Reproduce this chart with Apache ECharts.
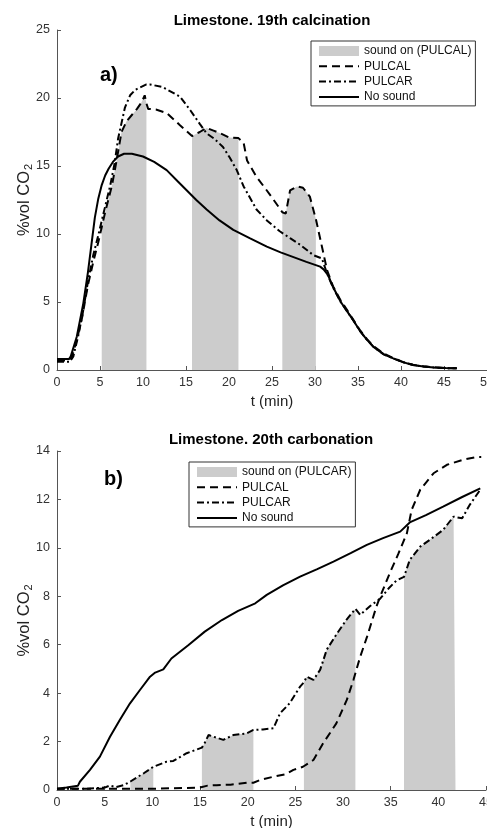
<!DOCTYPE html>
<html>
<head>
<meta charset="utf-8">
<script src="https://cdn.jsdelivr.net/npm/echarts@6/dist/echarts.min.js"></script>
<style>
  html, body { margin: 0; padding: 0; background: #fff; }
  #chart { width: 487px; height: 828px; }
</style>
</head>
<body>
<div id="chart"></div>
<script>
// a) Limestone, 19th calcination  (t in min, %vol CO2)
const calPulcalT = [0, 1.0, 1.7, 2.3, 2.9, 3.6, 4.2, 4.8, 5.2, 5.6, 6.4, 6.9, 7.5, 8.1, 8.7, 9.3, 9.85, 10.2, 10.4, 10.6, 11.5, 12.75, 14.3, 15.0, 15.7, 16.6, 17.4, 18.2, 19.0, 20.0, 21.1, 21.7, 22.1, 23.2, 24.4, 25.2, 26.2, 26.6, 27.1, 27.9, 28.6, 29.4, 30.1, 30.9, 31.4, 32.1, 33.0, 33.7, 34.5, 35.2, 36.0, 36.8, 38.0, 39.1, 40.2, 41.4, 42.6, 43.8, 45.2, 46.5]
const calPulcalV = [0.7, 0.7, 0.9, 2.2, 3.8, 6.25, 7.9, 9.4, 10.5, 11.6, 13.6, 15.3, 17.5, 18.3, 18.75, 19.2, 19.7, 20.2, 19.6, 19.2, 19.15, 18.9, 18.0, 17.6, 17.2, 17.5, 17.8, 17.6, 17.4, 17.1, 17.05, 16.7, 15.4, 14.2, 13.2, 12.5, 11.6, 11.5, 13.2, 13.5, 13.4, 12.75, 11.1, 8.8, 7.35, 6.15, 5.1, 4.45, 3.65, 2.95, 2.3, 1.75, 1.2, 0.88, 0.6, 0.38, 0.27, 0.2, 0.14, 0.12]
const calPulcarT = [0, 1.5, 1.9, 2.5, 3.0, 3.6, 4.2, 4.8, 5.4, 6.2, 6.7, 7.1, 7.9, 8.5, 9.1, 10.4, 10.8, 12.3, 14.3, 15.5, 16.6, 17.4, 18.3, 19.3, 20.1, 20.9, 21.7, 23.2, 24.4, 25.9, 27.1, 28.3, 29.8, 30.8, 31.4, 32.1, 33.0, 33.7, 34.5, 35.2, 36.0, 36.8, 38.0, 39.1, 40.2, 41.4, 42.6, 43.8, 45.2, 46.5]
const calPulcarV = [0.6, 0.6, 1.0, 2.6, 4.2, 6.5, 8.4, 9.9, 11.5, 13.6, 15.2, 17.0, 19.3, 20.2, 20.6, 21.0, 21.0, 20.8, 20.1, 19.1, 18.1, 17.4, 17.0, 16.4, 15.6, 14.7, 13.5, 11.8, 11.0, 10.2, 9.7, 9.2, 8.45, 8.2, 7.1, 6.05, 5.0, 4.35, 3.6, 2.9, 2.25, 1.7, 1.15, 0.85, 0.58, 0.37, 0.26, 0.19, 0.14, 0.12]
const calNoSoundT = [0, 1.4, 1.6, 2.3, 3.06, 3.6, 4.0, 4.4, 4.8, 5.2, 5.6, 6.0, 6.5, 7.1, 7.8, 8.7, 10.0, 11.3, 12.75, 14.0, 15.1, 16.2, 17.4, 18.9, 20.5, 22.4, 24.4, 26.0, 27.5, 29.0, 30.6, 31.0, 31.5, 32.1, 33.0, 33.7, 34.5, 35.2, 36.0, 36.8, 38.0, 39.1, 40.2, 41.4, 42.6, 43.8, 45.2, 46.5]
const calNoSoundV = [0.8, 0.8, 1.0, 2.45, 4.9, 7.2, 9.2, 11.2, 12.6, 13.6, 14.3, 14.8, 15.3, 15.7, 15.9, 15.9, 15.7, 15.3, 14.7, 13.9, 13.2, 12.5, 11.8, 11.0, 10.3, 9.7, 9.07, 8.65, 8.3, 7.95, 7.6, 7.4, 7.0, 6.1, 5.0, 4.35, 3.6, 2.9, 2.25, 1.7, 1.15, 0.86, 0.58, 0.37, 0.26, 0.19, 0.14, 0.12]
const calSoundOn = [[5.2, 10.4], [15.7, 21.1], [26.2, 30.1]] // follows PULCAL

// b) Limestone, 20th carbonation
const carPulcalT = [0, 5, 10, 15, 15.8, 16.75, 18.2, 19.9, 20.6, 21.3, 22.7, 24.0, 24.8, 25.8, 26.9, 27.9, 29.3, 30.4, 31.1, 31.8, 32.5, 33.5, 33.9, 34.9, 35.8, 36.7, 37.2, 38.1, 39.5, 40.9, 42.6, 44.0, 44.5]
const carPulcalV = [0.05, 0.05, 0.05, 0.1, 0.18, 0.2, 0.22, 0.3, 0.3, 0.41, 0.55, 0.65, 0.83, 0.96, 1.24, 1.92, 2.75, 3.72, 4.55, 5.5, 6.3, 7.57, 7.99, 8.95, 9.75, 10.6, 11.57, 12.4, 13.08, 13.43, 13.64, 13.75, 13.75]
const carPulcarT = [0, 3, 5, 5.5, 6.2, 7.0, 7.7, 8.5, 9.1, 10.1, 11.5, 12.2, 13.6, 15.2, 15.5, 15.9, 16.4, 17.45, 18.5, 19.9, 20.6, 21.6, 22.7, 23.4, 24.4, 25.5, 25.9, 26.2, 26.9, 27.6, 28.3, 29.35, 30.4, 31.3, 31.8, 32.85, 33.9, 34.8, 35.6, 36.4, 37.0, 38.1, 39.1, 40.5, 41.6, 41.8, 42.5, 43.3, 44.4]
const carPulcarV = [0.05, 0.05, 0.1, 0.18, 0.12, 0.2, 0.35, 0.55, 0.69, 0.96, 1.17, 1.2, 1.52, 1.75, 1.95, 2.27, 2.2, 2.07, 2.27, 2.34, 2.48, 2.5, 2.55, 3.17, 3.58, 4.27, 4.45, 4.68, 4.55, 4.96, 5.8, 6.45, 7.05, 7.48, 7.23, 7.6, 7.9, 8.33, 8.65, 8.8, 9.5, 10.05, 10.33, 10.74, 11.29, 11.3, 11.22, 11.78, 12.4]
const carNoSoundT = [0, 1.0, 1.2, 2.2, 2.4, 3.46, 4.5, 5.56, 6.6, 7.66, 8.7, 9.76, 10.3, 11.15, 12.0, 13.8, 15.5, 17.3, 19.0, 20.8, 22.0, 23.7, 25.5, 27.3, 29.0, 30.8, 32.5, 34.2, 36.0, 37.0, 38.7, 40.5, 42.5, 44.4]
const carNoSoundV = [0.05, 0.1, 0.16, 0.18, 0.34, 0.83, 1.38, 2.2, 2.9, 3.58, 4.13, 4.68, 4.85, 4.98, 5.43, 5.99, 6.54, 7.02, 7.4, 7.71, 8.06, 8.45, 8.81, 9.12, 9.43, 9.78, 10.12, 10.4, 10.67, 11.05, 11.35, 11.7, 12.1, 12.46]
const carSoundOn = [[7.7, 10.1], [15.2, 20.6], [25.9, 31.3], [36.4, 41.8]] // follows PULCAR

const font = 'Liberation Sans, Arial, Helvetica, sans-serif'
const gray = '#cccccc'

const chart = echarts.init(document.getElementById('chart'))

function pairs(t, v) {
  return t.map((x, i) => [x, v[i]])
}

function lineSeries(name, t, v, dash, idx) {
  return {
    name: name,
    type: 'line',
    xAxisIndex: idx,
    yAxisIndex: idx,
    data: pairs(t, v),
    symbol: 'none',
    z: 3,
    itemStyle: { color: '#000' },
    lineStyle: { color: '#000', width: 2, type: dash }
  }
}

// grey patches under the curve where the sound was on
function soundSeries(name, t, v, spans, idx) {
  return spans.map(([s, e]) => ({
    name: name,
    type: 'line',
    xAxisIndex: idx,
    yAxisIndex: idx,
    data: pairs(t, v).filter(p => p[0] >= s && p[0] <= e),
    symbol: 'none',
    silent: true,
    z: 1,
    itemStyle: { color: gray },
    lineStyle: { width: 0 },
    areaStyle: { color: gray, opacity: 1 }
  }))
}

function xAxis(idx, max) {
  return {
    type: 'value', gridIndex: idx, min: 0, max: max, interval: 5,
    name: 't (min)', nameLocation: 'middle', nameGap: 24,
    nameTextStyle: { fontFamily: font, fontSize: 15, color: '#222' },
    axisLine: { lineStyle: { color: '#555' } },
    axisTick: { inside: true, length: 4, lineStyle: { color: '#555' } },
    axisLabel: { fontFamily: font, fontSize: 12.5, color: '#333', margin: 6, showMinLabel: true, showMaxLabel: true },
    splitLine: { show: false }
  }
}

function yAxis(idx, max, step) {
  return {
    type: 'value', gridIndex: idx, min: 0, max: max, interval: step,
    name: '%vol CO{s|2}', nameLocation: 'middle', nameGap: 24, nameMoveOverlap: false,
    nameTextStyle: {
      fontFamily: font, fontSize: 16.5, color: '#222',
      rich: { s: { fontFamily: font, fontSize: 11, lineHeight: 11, color: '#222', padding: [8, 0, 0, 1] } }
    },
    axisLine: { show: true, lineStyle: { color: '#555' } },
    axisTick: { show: true, inside: true, length: 4, lineStyle: { color: '#555' } },
    axisLabel: { fontFamily: font, fontSize: 12.5, color: '#333', margin: 7 },
    splitLine: { show: false }
  }
}

// line entries: hide the marker that echarts puts on line legend icons
const noMark = { color: 'rgba(0,0,0,0)', borderWidth: 0 }

function legend(soundName, left, top) {
  return {
    data: [
      { name: soundName, icon: 'rect', itemStyle: { color: gray } },
      { name: 'PULCAL', itemStyle: noMark },
      { name: 'PULCAR', itemStyle: noMark },
      { name: 'No sound', itemStyle: noMark }
    ],
    orient: 'vertical',
    left: left,
    top: top,
    itemWidth: 40,
    itemHeight: 10,
    itemGap: 3.3,
    padding: [4, 4, 3, 7],
    borderColor: '#333',
    borderWidth: 1,
    selectedMode: false,
    textStyle: { fontFamily: font, fontSize: 12, lineHeight: 12, color: '#111' }
  }
}

const dashed = [8, 5]
const dashDot = [7, 3, 2, 3]

chart.setOption({
  animation: false,
  backgroundColor: '#fff',
  title: [
    { text: 'Limestone. 19th calcination', left: 272, top: 13, textAlign: 'center', padding: 0,
      textStyle: { fontFamily: font, fontSize: 15, fontWeight: 'bold', color: '#000' } },
    { text: 'Limestone. 20th carbonation', left: 271, top: 432, textAlign: 'center', padding: 0,
      textStyle: { fontFamily: font, fontSize: 15, fontWeight: 'bold', color: '#000' } },
    { text: 'a)', left: 100, top: 65, padding: 0,
      textStyle: { fontFamily: font, fontSize: 20, fontWeight: 'bold', color: '#000' } },
    { text: 'b)', left: 104, top: 469, padding: 0,
      textStyle: { fontFamily: font, fontSize: 20, fontWeight: 'bold', color: '#000' } }
  ],
  legend: [
    legend('sound on (PULCAL)', 311, 41),
    legend('sound on (PULCAR)', 189, 462)
  ],
  grid: [
    { left: 57, right: 0, top: 30, bottom: 458, outerBoundsMode: 'none' },
    { left: 57, right: 1, top: 451, bottom: 38, outerBoundsMode: 'none' }
  ],
  xAxis: [xAxis(0, 50), xAxis(1, 45)],
  yAxis: [yAxis(0, 25, 5), yAxis(1, 14, 2)],
  series: [
    ...soundSeries('sound on (PULCAL)', calPulcalT, calPulcalV, calSoundOn, 0),
    lineSeries('PULCAL', calPulcalT, calPulcalV, dashed, 0),
    lineSeries('PULCAR', calPulcarT, calPulcarV, dashDot, 0),
    lineSeries('No sound', calNoSoundT, calNoSoundV, 'solid', 0),
    ...soundSeries('sound on (PULCAR)', carPulcarT, carPulcarV, carSoundOn, 1),
    lineSeries('PULCAL', carPulcalT, carPulcalV, dashed, 1),
    lineSeries('PULCAR', carPulcarT, carPulcarV, dashDot, 1),
    lineSeries('No sound', carNoSoundT, carNoSoundV, 'solid', 1)
  ]
})
</script>
</body>
</html>
